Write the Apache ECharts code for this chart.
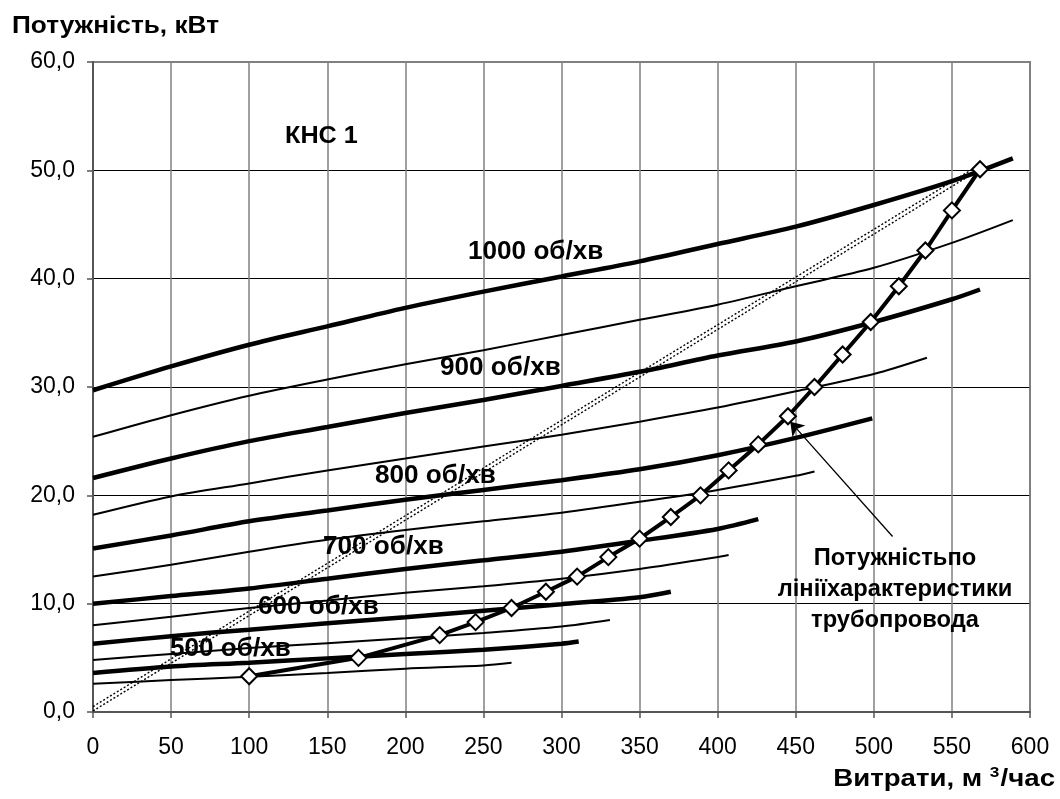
<!DOCTYPE html>
<html>
<head>
<meta charset="utf-8">
<script src="https://cdn.jsdelivr.net/npm/echarts@6/dist/echarts.min.js"></script>
<style>
  html, body { margin: 0; background: #fff; }
  #chart { width: 1060px; height: 799px; }
</style>
</head>
<body>
<div id="chart"></div>
<script>
// pump power curves, [flow m3/h, power kW]
const n1000Thick = [[0, 29.7], [50, 31.9], [100, 33.9], [150, 35.6], [200, 37.3], [250, 38.8], [300, 40.2], [350, 41.6], [400, 43.2], [450, 44.8], [500, 46.8], [550, 49.0], [589, 51.1]];
const n1000Thin = [[0, 25.4], [50, 27.4], [100, 29.2], [150, 30.7], [200, 32.1], [250, 33.4], [300, 34.8], [350, 36.2], [400, 37.6], [450, 39.3], [500, 41.0], [550, 43.3], [589, 45.4]];
const n900Thick = [[0, 21.6], [50, 23.4], [100, 25.0], [150, 26.3], [200, 27.6], [250, 28.8], [300, 30.1], [350, 31.4], [400, 32.9], [450, 34.2], [500, 36.0], [550, 38.1], [568, 39.0]];
const n900Thin = [[0, 18.2], [50, 19.9], [100, 21.1], [150, 22.3], [200, 23.4], [250, 24.5], [300, 25.6], [350, 26.8], [400, 28.1], [450, 29.6], [500, 31.2], [534, 32.7]];
const n800Thick = [[0, 15.1], [50, 16.3], [100, 17.6], [150, 18.6], [200, 19.6], [250, 20.5], [300, 21.4], [350, 22.4], [400, 23.7], [450, 25.3], [499, 27.1]];
const n800Thin = [[0, 12.5], [50, 13.6], [100, 14.8], [150, 15.9], [200, 16.8], [250, 17.6], [300, 18.4], [350, 19.4], [400, 20.5], [450, 21.8], [462, 22.2]];
const n700Thick = [[0, 10.0], [50, 10.7], [100, 11.4], [150, 12.3], [200, 13.2], [250, 14.0], [300, 14.8], [350, 15.8], [400, 16.9], [426, 17.8]];
const n700Thin = [[0, 8.0], [50, 8.8], [100, 9.6], [150, 10.3], [200, 11.0], [250, 11.6], [300, 12.3], [350, 13.2], [400, 14.3], [407, 14.5]];
const n600Thick = [[0, 6.3], [50, 7.0], [100, 7.6], [150, 8.2], [200, 8.75], [250, 9.35], [300, 9.95], [350, 10.6], [370, 11.1]];
const n600Thin = [[0, 4.8], [50, 5.35], [100, 5.9], [150, 6.35], [200, 6.8], [250, 7.3], [300, 7.9], [331, 8.5]];
const n500Thick = [[0, 3.6], [50, 4.2], [100, 4.55], [150, 4.95], [200, 5.35], [250, 5.75], [300, 6.3], [311, 6.5]];
const n500Thin = [[0, 2.6], [50, 2.95], [100, 3.25], [150, 3.6], [200, 4.0], [250, 4.3], [268, 4.55]];

// pipeline characteristic
const pipeQ = [100, 170, 222, 245, 268, 290, 310, 330, 350, 370, 389, 407, 426, 445, 462, 480, 498, 516, 533, 550, 568];
const pipeP = [3.3, 5.0, 7.1, 8.3, 9.6, 11.1, 12.5, 14.3, 16.0, 18.0, 20.0, 22.3, 24.7, 27.3, 30.0, 33.0, 36.0, 39.3, 42.6, 46.3, 50.1];

// dotted guide lines from origin to operating point
const guideA = [[0, 0.1], [568, 50.1]];
const guideB = [[0, 0.5], [563, 50.1]];

// arrow from annotation to curve
const arrowFrom = [512, 16.2];
const arrowTo = [446.5, 26.8];

const speedLabels = ['1000 об/хв', '900 об/хв', '800 об/хв', '700 об/хв', '600 об/хв', '500 об/хв'];
const yTicks = [0, 10, 20, 30, 40, 50, 60];

const FONT = '"Liberation Sans", Arial, sans-serif';

function curve(data, width) {
  return {
    type: 'line',
    data: data,
    symbol: 'none',
    smooth: 0.3,
    silent: true,
    lineStyle: { color: '#000', width: width },
    z: 3
  };
}

function guide(data) {
  return {
    type: 'line',
    data: data,
    symbol: 'none',
    silent: true,
    lineStyle: { color: '#000', width: 1.4, type: [2, 2] },
    z: 2
  };
}

// text helper: x, y is the anchor, text middle-aligned vertically
function label(text, x, y, size, scaleX, align) {
  return {
    type: 'text',
    x: x, y: y, scaleX: scaleX, z: 10,
    style: {
      text: text,
      font: 'bold ' + size + 'px ' + FONT,
      fill: '#000',
      align: align || 'left',
      verticalAlign: 'middle'
    }
  };
}

const chart = echarts.init(document.getElementById('chart'));

// label positions in pixels (left, middle)
const labelPos = [[468, 252], [440, 368], [375, 476], [323, 547], [258, 607], [170, 649]];

const graphic = labelPos.map((p, i) => label(speedLabels[i], p[0], p[1], 25, 1.045));

graphic.push(
  label('Потужність, кВт', 12, 27, 23, 1.14),
  label('КНС 1', 285, 136, 24, 1.05),
  {
    type: 'text', x: 1055, y: 779, scaleX: 1.15, z: 10,
    style: {
      text: '{a|Витрати, м }{s|3}{a|/час}',
      align: 'right',
      verticalAlign: 'middle',
      rich: {
        a: { font: 'bold 24px ' + FONT, fill: '#000' },
        s: { font: 'bold 15px ' + FONT, fill: '#000', padding: [0, 1, 12, 0] }
      }
    }
  },
  {
    type: 'text', x: 895, y: 590, scaleX: 1.03, z: 10,
    style: {
      text: 'Потужністьпо\nлініїхарактеристики\nтрубопровода',
      font: 'bold 23px ' + FONT,
      fill: '#000',
      align: 'center',
      verticalAlign: 'middle',
      lineHeight: 31
    }
  }
);

chart.setOption({
  animation: false,
  backgroundColor: '#fff',
  grid: {
    left: 93, right: 30, top: 62, bottom: 87,
    show: true, borderColor: '#808080', borderWidth: 2
  },
  xAxis: {
    type: 'value',
    min: 0, max: 600, interval: 50,
    axisLine: { show: true, lineStyle: { color: '#555', width: 2 } },
    axisTick: { show: true, length: 6, lineStyle: { color: '#555', width: 1.5 } },
    axisLabel: { color: '#000', fontSize: 23, fontFamily: FONT, margin: 24 },
    splitLine: { show: true, lineStyle: { color: '#808080', width: 1.5 } }
  },
  yAxis: {
    type: 'value',
    min: 0, max: 60, interval: 10,
    axisLine: { show: true, lineStyle: { color: '#555', width: 2 } },
    axisTick: { show: true, length: 6, lineStyle: { color: '#555', width: 1.5 } },
    axisLabel: {
      color: '#000', fontSize: 23, fontFamily: FONT, margin: 18,
      formatter: v => v.toFixed(1).replace('.', ',')
    },
    splitLine: {
      show: true,
      lineStyle: { color: yTicks.map(t => (t === 60 ? '#808080' : '#000')), width: 1.2 }
    }
  },
  graphic: graphic,
  series: [
    guide(guideA),
    guide(guideB),
    curve(n1000Thick, 4.5), curve(n1000Thin, 2),
    curve(n900Thick, 4.5), curve(n900Thin, 2),
    curve(n800Thick, 4.5), curve(n800Thin, 2),
    curve(n700Thick, 4.5), curve(n700Thin, 2),
    curve(n600Thick, 4.5), curve(n600Thin, 2),
    curve(n500Thick, 4.5), curve(n500Thin, 2),
    {
      type: 'line',
      data: pipeQ.map((q, i) => [q, pipeP[i]]),
      symbol: 'diamond',
      symbolSize: 16,
      showAllSymbol: true,
      silent: true,
      z: 5,
      lineStyle: { color: '#000', width: 4 },
      itemStyle: { color: '#fff', borderColor: '#000', borderWidth: 2 },
      markLine: {
        silent: true,
        symbol: ['none', 'arrow'],
        symbolSize: 13,
        label: { show: false },
        lineStyle: { color: '#000', width: 1.3, type: 'solid' },
        data: [[{ coord: arrowFrom }, { coord: arrowTo }]]
      }
    }
  ]
});
</script>
</body>
</html>
